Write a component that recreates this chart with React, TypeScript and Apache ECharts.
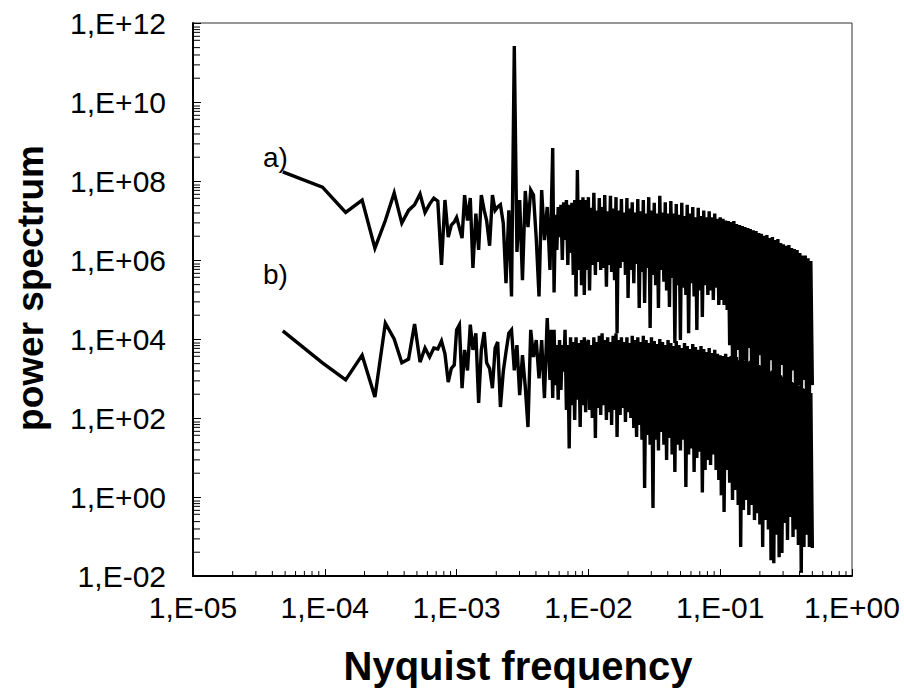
import React, { useEffect, useRef } from 'react';
import * as echarts from 'echarts';

// Frequencies (Nyquist frequency) shared by both spectra
const frequency = [
  4.8e-5, 9.6e-5, 1.44e-4, 1.92e-4, 2.4e-4, 2.88e-4, 3.36e-4, 3.84e-4, 4.32e-4, 4.8e-4,
  5.28e-4, 5.76e-4, 6.24e-4, 6.72e-4, 7.2e-4, 7.68e-4, 8.16e-4, 8.64e-4, 9.12e-4, 9.6e-4,
  1.0e-3, 1.05e-3, 1.1e-3, 1.15e-3, 1.21e-3, 1.27e-3, 1.33e-3, 1.4e-3, 1.47e-3, 1.54e-3,
  1.62e-3, 1.69e-3, 1.78e-3, 1.87e-3, 1.96e-3, 2.05e-3, 2.15e-3, 2.26e-3, 2.37e-3, 2.49e-3,
  2.61e-3, 2.74e-3, 2.87e-3, 3.01e-3, 3.16e-3, 3.32e-3, 3.48e-3, 3.65e-3, 3.83e-3, 4.02e-3,
  4.22e-3, 4.42e-3, 4.64e-3, 4.87e-3,
  5.11e-3, 5.23e-3, 5.36e-3, 5.49e-3, 5.62e-3, 5.76e-3, 5.9e-3, 6.04e-3, 6.19e-3, 6.34e-3,
  6.49e-3, 6.65e-3, 6.81e-3, 6.98e-3, 7.15e-3, 7.32e-3, 7.5e-3, 7.68e-3, 7.87e-3, 8.06e-3,
  8.25e-3, 8.45e-3, 8.66e-3, 8.87e-3, 9.09e-3, 9.31e-3, 9.53e-3, 9.76e-3,
  1.0e-2, 1.02e-2, 1.05e-2, 1.07e-2, 1.1e-2, 1.13e-2, 1.15e-2, 1.18e-2, 1.21e-2, 1.24e-2,
  1.27e-2, 1.3e-2, 1.33e-2, 1.37e-2, 1.4e-2, 1.43e-2, 1.47e-2, 1.5e-2, 1.54e-2, 1.58e-2,
  1.62e-2, 1.65e-2, 1.69e-2, 1.74e-2, 1.78e-2, 1.82e-2, 1.87e-2, 1.91e-2, 1.96e-2, 2.0e-2,
  2.05e-2, 2.1e-2, 2.15e-2, 2.21e-2, 2.26e-2, 2.32e-2, 2.37e-2, 2.43e-2, 2.49e-2, 2.55e-2,
  2.61e-2, 2.67e-2, 2.74e-2, 2.8e-2, 2.87e-2, 2.94e-2, 3.01e-2, 3.09e-2, 3.16e-2, 3.24e-2,
  3.32e-2, 3.4e-2, 3.48e-2, 3.57e-2, 3.65e-2, 3.74e-2, 3.83e-2, 3.92e-2, 4.02e-2, 4.12e-2,
  4.22e-2, 4.32e-2, 4.42e-2, 4.53e-2, 4.64e-2, 4.75e-2, 4.87e-2, 4.99e-2, 5.11e-2, 5.23e-2,
  5.36e-2, 5.49e-2, 5.62e-2, 5.76e-2, 5.9e-2, 6.04e-2, 6.19e-2, 6.34e-2, 6.49e-2, 6.65e-2,
  6.81e-2, 6.98e-2, 7.15e-2, 7.32e-2, 7.5e-2, 7.68e-2, 7.87e-2, 8.06e-2, 8.25e-2, 8.45e-2,
  8.66e-2, 8.87e-2, 9.09e-2, 9.31e-2, 9.53e-2, 9.76e-2,
  0.1, 0.102, 0.105, 0.107, 0.11, 0.113, 0.115, 0.118, 0.121, 0.124,
  0.127, 0.13, 0.133, 0.137, 0.14, 0.143, 0.147, 0.15, 0.154, 0.158,
  0.162, 0.165, 0.169, 0.174, 0.178, 0.182, 0.187, 0.191, 0.196, 0.2,
  0.205, 0.21, 0.215, 0.221, 0.226, 0.232, 0.237, 0.243, 0.249, 0.255,
  0.261, 0.267, 0.274, 0.28, 0.287, 0.294, 0.301, 0.309, 0.316, 0.324,
  0.332, 0.34, 0.348, 0.357, 0.365, 0.374, 0.383, 0.392, 0.402, 0.412,
  0.422, 0.432, 0.442, 0.453, 0.464, 0.475, 0.487, 0.5,
];

// Spectrum a)
const powerA = [
  1.7e8, 7.0e7, 1.6e7, 3.3e7, 2.0e6, 1.0e7, 5.0e7, 8.6e6, 1.8e7, 2.5e7,
  4.7e7, 1.6e7, 2.6e7, 3.7e7, 3.1e7, 7.5e5, 3.3e7, 3.8e6, 7.7e6, 9.2e6,
  1.2e7, 6.5e6, 3.6e6, 4.4e7, 1.0e7, 3.7e7, 6.3e5, 1.5e7, 1.8e6, 4.4e7,
  1.8e7, 1.0e7, 2.3e6, 4.4e7, 1.8e7, 2.2e7, 2.5e7, 8.6e6, 2.6e5, 1.8e7,
  1.2e5, 2.6e11, 1.6e6, 3.3e7, 3.1e5, 5.6e7, 6.8e6, 5.9e7, 4.4e7, 3.6e6,
  1.2e5, 5.9e7, 3.2e6, 2.2e7,
  5.6e5, 1.8e7, 6.8e8, 1.5e5, 1.4e7, 1.8e6, 2.2e7, 3.8e6, 2.5e7, 1.0e6,
  2.9e7, 3.2e6, 3.3e7, 7.5e5, 2.5e7, 1.5e6, 2.8e7, 4.2e5, 3.3e7, 1.2e5,
  1.9e8, 5.6e5, 3.3e7, 2.3e5, 3.9e7, 1.3e5, 3.3e7, 5.6e5,
  3.9e7, 1.7e5, 2.1e7, 7.5e5, 5.0e7, 4.2e5, 1.8e7, 8.9e5, 3.7e7, 5.6e5,
  2.2e7, 6.3e5, 4.4e7, 2.1e5, 1.7e7, 7.5e5, 4.2e7, 5.0e5, 2.0e7, 3.1e5,
  3.9e7, 1.4e4, 1.8e7, 6.3e5, 3.5e7, 8.9e5, 1.6e7, 4.2e5, 3.7e7, 1.1e5,
  2.0e7, 5.6e5, 2.9e7, 2.6e5, 1.6e7, 7.9e5, 3.5e7, 6.1e4, 1.7e7, 5.0e5,
  3.3e7, 8.2e4, 1.5e7, 6.3e5, 3.9e7, 1.9e4, 1.8e7, 4.2e5, 2.8e7, 2.3e5,
  1.5e7, 6.1e4, 4.2e7, 5.6e5, 1.6e7, 2.8e5, 2.9e7, 1.7e5, 1.5e7, 6.5e4,
  3.1e7, 3.5e5, 1.5e7, 7.9e3, 2.6e7, 2.3e5, 1.4e7, 9.4e3, 2.8e7, 2.0e5,
  1.3e7, 1.3e5, 2.5e7, 1.4e4, 1.5e7, 2.6e5, 2.2e7, 1.2e5, 1.2e7, 1.7e4,
  2.1e7, 1.7e5, 1.3e7, 3.6e4, 1.8e7, 2.3e5, 1.2e7, 1.3e5, 1.7e7, 1.7e5,
  1.2e7, 9.7e4, 1.5e7, 2.0e5, 1.1e7, 7.3e4,
  1.2e7, 9.7e4, 1.1e7, 7.3e4, 1.0e7, 5.4e4, 9.7e6, 7.0e3, 9.2e6, 2.9e3,
  9.7e6, 9.2e2, 8.2e6, 5.3e3, 7.7e6, 3.8e2, 7.3e6, 2.9e3, 6.8e6, 5.1e2,
  6.5e6, 5.9e3, 6.1e6, 2.9e2, 5.7e6, 2.2e3, 5.4e6, 6.8e2, 4.8e6, 3.9e3,
  4.6e6, 2.1e2, 4.1e6, 1.6e3, 4.3e6, 3.8e2, 3.6e6, 2.9e3, 3.8e6, 1.6e2,
  3.2e6, 1.2e3, 3.4e6, 2.9e2, 2.7e6, 2.2e3, 2.5e6, 1.2e2, 2.3e6, 9.2e2,
  2.4e6, 2.1e2, 2.0e6, 1.6e3, 1.9e6, 1.6e2, 1.8e6, 6.8e2, 1.5e6, 1.2e2,
  1.3e6, 9.2e2, 1.3e6, 1.4e2, 1.1e6, 3.8e2, 9.4e5, 6.8e2,
];

// Spectrum b)
const powerB = [
  1.6e4, 2.5e3, 9.2e2, 3.9e3, 3.4e2, 2.5e4, 1.0e4, 2.5e3, 3.1e3, 2.4e4,
  2.6e3, 5.9e3, 3.5e3, 5.9e3, 5.6e3, 8.9e3, 4.2e3, 8.1e2, 1.8e3, 2.2e3,
  1.7e4, 2.3e4, 5.7e2, 5.3e3, 1.6e3, 2.3e4, 5.3e3, 1.4e4, 2.4e2, 5.3e3,
  1.5e4, 2.5e3, 1.8e3, 5.7e2, 5.9e3, 8.4e3, 1.9e2, 1.5e3, 4.7e3, 1.4e4,
  1.7e4, 1.6e3, 7.0e3, 3.8e2, 3.9e3, 6.1e2, 59, 1.7e4, 3.5e3, 9.4e3,
  1.0e3, 9.4e3, 3.2e2, 3.4e4,
  9.2e2, 1.7e4, 3.2e2, 1.7e4, 6.8e2, 7.0e3, 2.9e2, 9.4e3, 5.1e2, 7.0e3,
  1.5e3, 1.7e4, 1.6e2, 7.0e3, 17, 1.1e4, 2.1e2, 8.4e3, 89, 1.1e4,
  2.9e2, 7.9e3, 59, 9.4e3, 2.1e2, 1.1e4, 1.4e2, 7.0e3,
  9.4e3, 1.6e2, 7.0e3, 1.0e2, 1.1e4, 31, 8.4e3, 1.8e2, 1.2e4, 1.2e2,
  1.4e4, 2.1e2, 9.4e3, 89, 1.1e4, 1.4e2, 8.4e3, 67, 1.2e4, 1.6e2,
  1.4e4, 33, 9.4e3, 1.2e2, 1.1e4, 1.8e2, 8.4e3, 79, 1.1e4, 1.4e2,
  7.9e3, 1.0e2, 1.2e4, 56, 9.4e3, 33, 1.1e4, 67, 8.4e3, 28,
  1.2e4, 1.7, 9.4e3, 37, 7.9e3, 21, 1.1e4, 0.53, 8.9e3, 28,
  7.5e3, 15, 1.0e4, 44, 8.4e3, 21, 7.0e3, 8.6, 9.4e3, 31,
  7.9e3, 12, 6.6e3, 4.3, 8.9e3, 21, 7.0e3, 15, 5.9e3, 28,
  7.9e3, 1.8, 6.6e3, 12, 5.6e3, 17, 7.5e3, 4.3, 6.3e3, 9.7,
  5.3e3, 14, 6.6e3, 1.3, 5.6e3, 4.8, 4.7e3, 8.6, 5.9e3, 6.5,
  4.4e3, 12, 5.3e3, 4.8, 4.2e3, 2.7,
  3.9e3, 1.1, 3.7e3, 0.42, 4.2e3, 4.8, 3.5e3, 2.3, 3.7e3, 0.84,
  3.3e3, 1.5, 3.5e3, 0.63, 2.9e3, 0.054, 3.1e3, 0.47, 2.8e3, 0.84,
  2.6e3, 0.35, 2.8e3, 0.63, 2.3e3, 0.26, 2.5e3, 0.39, 2.2e3, 0.2,
  2.1e3, 0.054, 1.8e3, 0.26, 1.7e3, 0.15, 1.5e3, 0.025, 1.6e3, 0.021,
  1.4e3, 0.11, 1.3e3, 0.03, 1.2e3, 0.038, 1.1e3, 0.22, 9.7e2, 0.082,
  9.2e2, 0.31, 8.2e2, 0.097, 7.7e2, 0.15, 6.8e2, 0.061, 6.5e2, 0.012,
  5.7e2, 0.054, 5.4e2, 0.11, 4.8e2, 0.054, 4.3e2, 0.051,
];

// Axis ticks
const xDecades = [1e-5, 1e-4, 1e-3, 1e-2, 1e-1];
const xMinorMultipliers = [2, 3, 4, 5, 6, 7, 8, 9];
const yLabelledValues = [1e12, 1e10, 1e8, 1e6, 1e4, 1e2, 1e0];
const yMinorFactors = [0.79, 0.68, 0.58, 0.46, 0.365, 0.238, 0.155, 0.087, 0.04];

const seriesNames = ['a)', 'b)'];
const xTitle = 'Nyquist frequency';
const yTitle = 'power spectrum';

const FONT = '"Liberation Sans", Arial, Helvetica, sans-serif';

function sciLabel(v: number): string {
  const e = Math.round(Math.log10(v));
  return '1,E' + (e < 0 ? '-' : '+') + String(Math.abs(e)).padStart(2, '0');
}

export default function App() {
  const ref = useRef<HTMLDivElement>(null);

  useEffect(() => {
    if (!ref.current) return;
    const chart = echarts.init(ref.current, null, { renderer: 'svg' });

    const xMinor = xDecades.flatMap((d) => xMinorMultipliers.map((m) => [d * m, 1e-2]));
    const yMinor = yLabelledValues.flatMap((d) => yMinorFactors.map((f) => [1e-5, d * f]));

    const n = Math.min(frequency.length, powerA.length, powerB.length);
    const dataA = frequency.slice(0, n).map((f, i) => [f, powerA[i]]);
    const dataB = frequency.slice(0, n).map((f, i) => [f, powerB[i]]);

    chart.setOption({
      animation: false,
      backgroundColor: '#ffffff',
      grid: {
        left: 193,
        top: 23,
        width: 659,
        height: 553,
        show: true,
        borderColor: '#333',
        borderWidth: 1,
        backgroundColor: 'transparent',
      },
      xAxis: {
        type: 'log',
        logBase: 10,
        min: 1e-5,
        max: 1,
        interval: 1,
        axisLine: { show: true, lineStyle: { color: '#000', width: 2 } },
        axisTick: { show: true, inside: true, length: 7, lineStyle: { color: '#000', width: 1 } },
        minorTick: { show: false },
        splitLine: { show: false },
        axisLabel: { formatter: sciLabel, fontFamily: FONT, fontSize: 30, color: '#000', margin: 16 },
      },
      yAxis: {
        type: 'log',
        logBase: 10,
        min: 1e-2,
        max: 1e12,
        interval: 2,
        axisLine: { show: true, lineStyle: { color: '#000', width: 2 } },
        axisTick: { show: true, inside: true, length: 8, lineStyle: { color: '#000', width: 1 } },
        minorTick: { show: false },
        splitLine: { show: false },
        axisLabel: { formatter: sciLabel, fontFamily: FONT, fontSize: 30, color: '#000', margin: 27 },
      },
      series: [
        {
          name: seriesNames[0],
          type: 'line',
          data: dataA,
          showSymbol: false,
          symbol: 'none',
          lineStyle: { color: '#000', width: 3.4, join: 'miter' },
          z: 3,
        },
        {
          name: seriesNames[1],
          type: 'line',
          data: dataB,
          showSymbol: false,
          symbol: 'none',
          lineStyle: { color: '#000', width: 3.4, join: 'miter' },
          z: 3,
        },
        {
          type: 'custom',
          clip: false,
          silent: true,
          data: xMinor,
          z: 4,
          renderItem: (params: any, api: any) => {
            const p = api.coord([api.value(0), api.value(1)]);
            return {
              type: 'line',
              shape: { x1: p[0], y1: p[1], x2: p[0], y2: p[1] - 5 },
              style: { stroke: '#000', lineWidth: 1 },
            };
          },
        },
        {
          type: 'custom',
          clip: false,
          silent: true,
          data: yMinor,
          z: 4,
          renderItem: (params: any, api: any) => {
            const p = api.coord([api.value(0), api.value(1)]);
            return {
              type: 'line',
              shape: { x1: p[0], y1: p[1], x2: p[0] + 7, y2: p[1] },
              style: { stroke: '#000', lineWidth: 1 },
            };
          },
        },
      ],
      graphic: [
        {
          type: 'text',
          x: 263,
          y: 157,
          style: { text: seriesNames[0], fontFamily: FONT, fontSize: 28, fill: '#000', align: 'left', verticalAlign: 'middle' },
        },
        {
          type: 'text',
          x: 263,
          y: 274,
          style: { text: seriesNames[1], fontFamily: FONT, fontSize: 28, fill: '#000', align: 'left', verticalAlign: 'middle' },
        },
        {
          type: 'text',
          x: 518,
          y: 666,
          style: { text: xTitle, fontFamily: FONT, fontSize: 40, fontWeight: 'bold', fill: '#000', align: 'center', verticalAlign: 'middle' },
        },
        {
          type: 'text',
          x: 30,
          y: 288,
          rotation: Math.PI / 2,
          style: { text: yTitle, fontFamily: FONT, fontSize: 37, fontWeight: 'bold', fill: '#000', align: 'center', verticalAlign: 'middle' },
        },
      ],
    });

    return () => chart.dispose();
  }, []);

  return (
    <div
      ref={ref}
      style={{ position: 'fixed', left: 0, top: 0, width: 904, height: 689, background: '#fff' }}
    />
  );
}
